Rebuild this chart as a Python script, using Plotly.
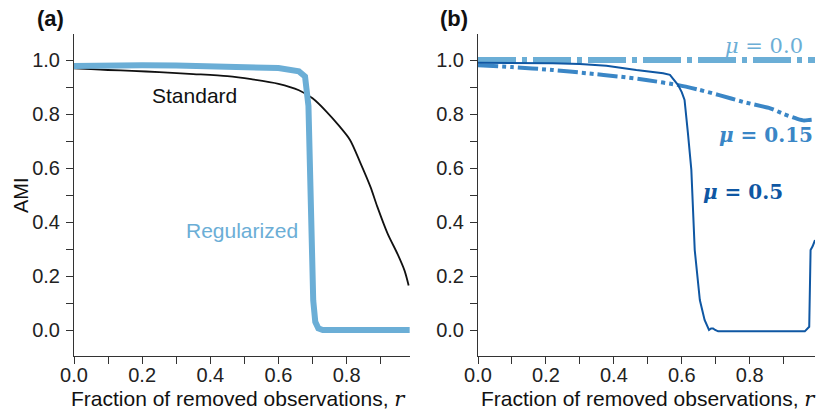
import plotly.graph_objects as go

# ---------------- data ----------------
std_x = [0, 0.05, 0.1, 0.17, 0.25, 0.35, 0.45, 0.52, 0.6, 0.66, 0.7, 0.74, 0.78, 0.81, 0.84, 0.87, 0.89, 0.92, 0.95, 0.97, 0.982]
std_y = [0.969, 0.966, 0.963, 0.960, 0.955, 0.948, 0.940, 0.929, 0.912, 0.888, 0.858, 0.81, 0.753, 0.704, 0.62, 0.53, 0.457, 0.358, 0.28, 0.22, 0.165]

reg_x = [0, 0.1, 0.2, 0.3, 0.4, 0.5, 0.6, 0.66, 0.678, 0.688, 0.692, 0.697, 0.702, 0.708, 0.717, 0.73, 0.75, 0.85, 0.985]
reg_y = [0.978, 0.981, 0.981, 0.980, 0.978, 0.975, 0.970, 0.958, 0.939, 0.83, 0.58, 0.33, 0.11, 0.03, 0.006, 0.0, 0.0, 0.0, 0.0]

mu00_x = [0, 0.5, 0.992]
mu00_y = [1.0, 1.0, 1.0]

mu15_x = [0, 0.1, 0.22, 0.32, 0.42, 0.5, 0.59, 0.65, 0.71, 0.78, 0.86, 0.9, 0.94, 0.96, 0.975, 0.992]
mu15_y = [0.981, 0.974, 0.963, 0.951, 0.938, 0.925, 0.907, 0.89, 0.87, 0.845, 0.821, 0.80, 0.782, 0.776, 0.778, 0.78]

mu50_x = [0, 0.1, 0.22, 0.3, 0.378, 0.466, 0.545, 0.565, 0.574, 0.589, 0.6, 0.608, 0.618, 0.628, 0.638, 0.653, 0.667, 0.68, 0.686, 0.692, 0.698, 0.707, 0.8, 0.9, 0.962, 0.975, 0.979, 0.985, 0.992]
mu50_y = [0.99, 0.99, 0.988, 0.985, 0.979, 0.963, 0.951, 0.945, 0.932, 0.907, 0.88, 0.852, 0.728, 0.593, 0.296, 0.111, 0.037, 0.0, 0.006, 0.006, 0.0, -0.005, -0.005, -0.005, -0.005, 0.012, 0.296, 0.31, 0.333]

x_tickvals = [0, 0.1, 0.2, 0.3, 0.4, 0.5, 0.6, 0.7, 0.8, 0.9]
x_ticktext = ["0.0", "", "0.2", "", "0.4", "", "0.6", "", "0.8", ""]
y_tickvals = [0, 0.1, 0.2, 0.3, 0.4, 0.5, 0.6, 0.7, 0.8, 0.9, 1.0]
y_ticktext = ["0.0", "", "0.2", "", "0.4", "", "0.6", "", "0.8", "", "1.0"]

# ---------------- style ----------------
W, H = 825, 412
SANS = "Liberation Sans, Arial, sans-serif"
SERIF = "DejaVu Serif, serif"
C_LIGHT = "#6baed6"
C_MED = "#3a86c6"
C_DARK = "#0f57a3"
AX = "#333333"

fig = go.Figure()
fig.add_trace(go.Scatter(x=std_x, y=std_y, mode="lines",
                         line=dict(color="#111111", width=1.8, shape="spline", smoothing=0.8),
                         xaxis="x", yaxis="y", showlegend=False))
fig.add_trace(go.Scatter(x=reg_x, y=reg_y, mode="lines", line=dict(color=C_LIGHT, width=6),
                         xaxis="x", yaxis="y", showlegend=False))
fig.add_trace(go.Scatter(x=mu00_x, y=mu00_y, mode="lines",
                         line=dict(color=C_LIGHT, width=6, dash="38px,6px,5px,6px"),
                         xaxis="x2", yaxis="y2", showlegend=False))
fig.add_trace(go.Scatter(x=mu15_x, y=mu15_y, mode="lines",
                         line=dict(color=C_MED, width=4, dash="20px,4px,4px,4px,4px,4px",
                                   shape="spline", smoothing=0.6),
                         xaxis="x2", yaxis="y2", showlegend=False))
fig.add_trace(go.Scatter(x=mu50_x, y=mu50_y, mode="lines", line=dict(color=C_DARK, width=2),
                         xaxis="x2", yaxis="y2", showlegend=False))

def xax(domain, rng, anchor):
    return dict(domain=domain, range=rng, anchor=anchor, showline=True, linecolor=AX, linewidth=1,
                ticks="outside", ticklen=7, tickcolor=AX, tickwidth=1, automargin=False,
                ticklabelstandoff=-6,
                tickmode="array", tickvals=x_tickvals, ticktext=x_ticktext,
                tickfont=dict(family=SANS, size=20, color="#222"), showgrid=False, zeroline=False)

def yax(domain, anchor):
    return dict(domain=domain, range=[-0.0963, 1.0963], anchor=anchor, showline=True, linecolor=AX,
                linewidth=1, ticks="outside", ticklen=7, tickcolor=AX, tickwidth=1, automargin=False,
                ticklabelstandoff=2,
                tickmode="array", tickvals=y_tickvals, ticktext=y_ticktext,
                tickfont=dict(family=SANS, size=20, color="#222"), showgrid=False, zeroline=False)

ydom = [56 / H, 378 / H]
fig.update_layout(
    template="none",
    width=W, height=H, margin=dict(l=0, r=0, t=0, b=0, pad=0),
    plot_bgcolor="white", paper_bgcolor="white",
    xaxis=xax([74 / W, 410 / W], [0, 0.986], "y"),
    yaxis=yax(ydom, "x"),
    xaxis2=xax([478 / W, 815 / W], [0, 0.992], "y2"),
    yaxis2=yax(ydom, "x2"),
)

def px_ann(text, x, y, size, color="#111", family=SANS, angle=0):
    fig.add_annotation(text=text, x=x / W, y=1 - y / H, xref="paper", yref="paper",
                       showarrow=False, xanchor="center", yanchor="middle", textangle=angle,
                       font=dict(family=family, size=size, color=color))

px_ann("<b>(a)</b>", 50, 19, 22)
px_ann("<b>(b)</b>", 454, 19, 22)
px_ann("AMI", 21, 195, 20, angle=-90)
rspan = "<span style='font-family:DejaVu Serif'><i>r</i></span>"
px_ann("Fraction of removed observations, " + rspan, 239, 399, 21)
px_ann("Fraction of removed observations, " + rspan, 648, 399, 21)

def data_ann(text, x, y, xref, yref, size, color, family=SANS):
    fig.add_annotation(text=text, x=x, y=y, xref=xref, yref=yref, showarrow=False,
                       xanchor="center", yanchor="middle", font=dict(family=family, size=size, color=color))

data_ann("Standard", 0.355, 0.867, "x", "y", 21, "#111")
data_ann("Regularized", 0.492, 0.37, "x", "y", 21, C_LIGHT)
data_ann("<i>μ</i> = 0.0", 0.841, 1.052, "x2", "y2", 21, C_LIGHT, SERIF)
data_ann("<b><i>μ</i> = 0.15</b>", 0.847, 0.722, "x2", "y2", 20, C_MED, SERIF)
data_ann("<b><i>μ</i> = 0.5</b>", 0.779, 0.511, "x2", "y2", 20, C_DARK, SERIF)

fig.write_html("out.html")
